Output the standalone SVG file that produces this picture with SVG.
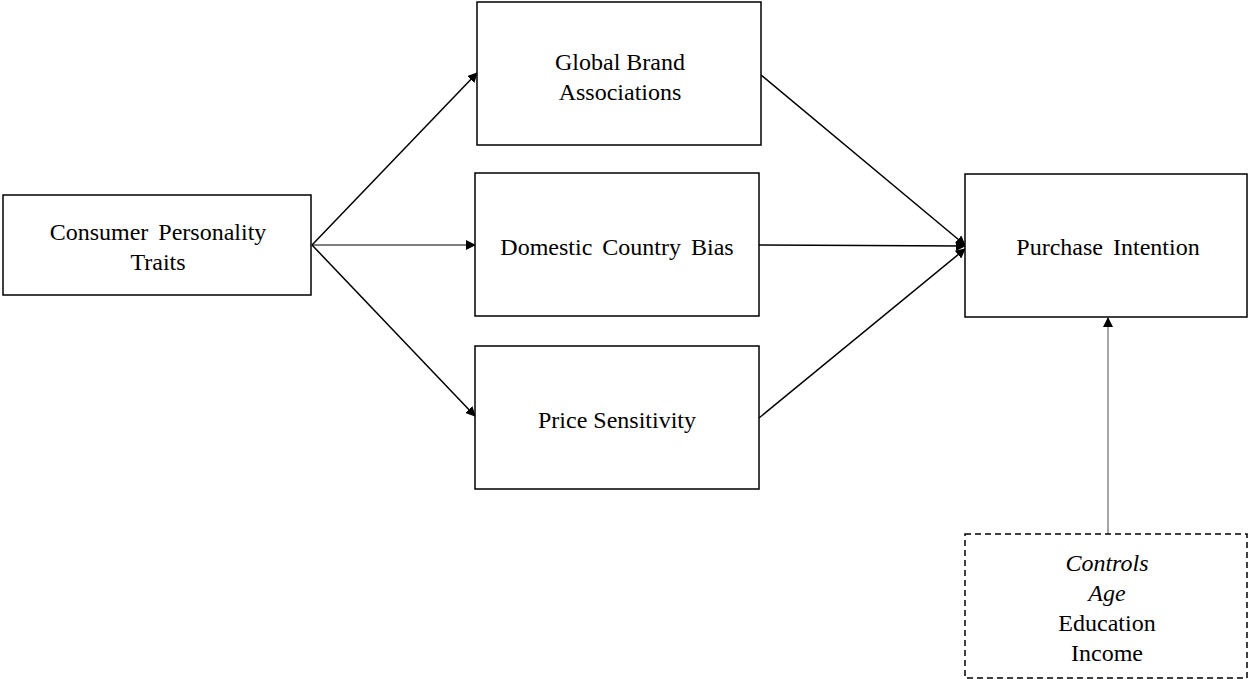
<svg xmlns="http://www.w3.org/2000/svg" width="1248" height="679" viewBox="0 0 1248 679">
<style>
.box{fill:#fff;stroke:#000;stroke-width:1.5}
.dash{fill:#fff;stroke:#000;stroke-width:1.5;stroke-dasharray:6 4}
.t{font-family:"Liberation Serif","Times New Roman",serif;font-size:24px;fill:#000;text-anchor:middle}
.w{word-spacing:4px}
.i{font-style:italic}
.c{stroke:#000;stroke-width:1.5;fill:none}
</style>
<defs>
<marker id="ah" viewBox="0 0 10 10" refX="9" refY="5" markerWidth="10" markerHeight="10" markerUnits="userSpaceOnUse" orient="auto">
<path d="M0,0 L10,5 L0,10 z" fill="#000"/>
</marker>
</defs>
<rect width="1248" height="679" fill="#fff"/>
<g id="connectors">
<line class="c" x1="312" y1="245" x2="477" y2="73" marker-end="url(#ah)"/>
<line class="c" x1="312" y1="245" x2="475" y2="245" marker-end="url(#ah)" style="stroke-width:1"/>
<line class="c" x1="312" y1="245" x2="475" y2="416" marker-end="url(#ah)"/>
<line class="c" x1="761" y1="75" x2="965" y2="245" marker-end="url(#ah)"/>
<line class="c" x1="759" y1="245" x2="965" y2="246" marker-end="url(#ah)"/>
<line class="c" x1="759" y1="418" x2="965" y2="249" marker-end="url(#ah)"/>
<line class="c" x1="1108" y1="534" x2="1108" y2="318" marker-end="url(#ah)" style="stroke:#888"/>
</g>
<g id="consumer">
<rect class="box" x="3" y="195" width="308" height="100"/>
<text class="t w" x="158" y="240">Consumer Personality</text>
<text class="t" x="158" y="270">Traits</text>
</g>
<g id="global">
<rect class="box" x="477" y="2" width="284" height="143"/>
<text class="t" x="620" y="70">Global Brand</text>
<text class="t" x="620" y="100">Associations</text>
</g>
<g id="domestic">
<rect class="box" x="475" y="173" width="284" height="143"/>
<text class="t w" x="617" y="255">Domestic Country Bias</text>
</g>
<g id="price">
<rect class="box" x="475" y="346" width="284" height="143"/>
<text class="t" x="617" y="428">Price Sensitivity</text>
</g>
<g id="purchase">
<rect class="box" x="965" y="174" width="282" height="143"/>
<text class="t w" x="1108" y="255">Purchase Intention</text>
</g>
<g id="controls">
<rect class="dash" x="965" y="534" width="282" height="144"/>
<text class="t i" x="1107" y="571">Controls</text>
<text class="t i" x="1107" y="601">Age</text>
<text class="t" x="1107" y="631">Education</text>
<text class="t" x="1107" y="661">Income</text>
</g>
</svg>
